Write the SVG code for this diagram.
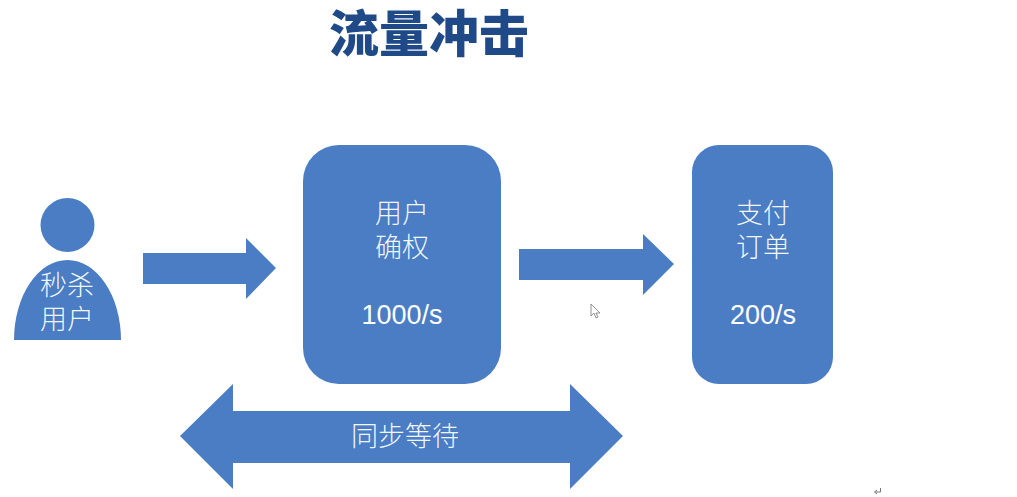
<svg xmlns="http://www.w3.org/2000/svg" width="1017" height="497" viewBox="0 0 1017 497">
<style>
.s{fill:#4a7dc4}
text{font-family:"Liberation Sans","Noto Sans CJK SC",sans-serif;text-anchor:middle}
.w{fill:#fff;font-size:27px;font-weight:300;fill-opacity:.95;font-family:"Noto Sans CJK SC","Liberation Sans",sans-serif}
.n{fill:#fff;font-size:27px}
</style>
<rect width="1017" height="497" fill="#fff"/>
<text id="title" x="429" y="52" style="font-family:'Noto Sans CJK SC',sans-serif;font-weight:900;font-size:50px;fill:#1f4a87">流量冲击</text>
<g id="connectors">
<polygon class="s" points="143,253 246,253 246,238 276,268 246,299 246,284 143,284"/>
<polygon class="s" points="519,249 643,249 643,234 674,264 643,295 643,280 519,280"/>
</g>
<g id="user">
<circle class="s" cx="67.500" cy="225" r="27"/>
<path class="s" d="M14,340A53.500,80 0 0 1 121,340Z"/>
<text class="w" x="67" y="295">秒杀<tspan x="67" dy="34">用户</tspan></text>
</g>
<g id="auth">
<rect class="s" x="303" y="145" width="198" height="239" rx="36"/>
<text class="w" x="402" y="223">用户<tspan x="402" dy="34">确权</tspan></text>
<text class="n" x="402" y="324">1000/s</text>
</g>
<g id="pay">
<rect class="s" x="692" y="145" width="141" height="239" rx="27"/>
<text class="w" x="763" y="223">支付<tspan x="763" dy="34">订单</tspan></text>
<text class="n" x="763" y="324">200/s</text>
</g>
<g id="wait">
<polygon class="s" points="180,436 233,384 233,411 570,411 570,384 623,436 570,489 570,463 233,463 233,489"/>
<text class="w" x="405" y="446">同步等待</text>
</g>
<path d="M591,304v12l3,-3l2,5l2,-1l-2,-4h4z" fill="#fff" stroke="#777" stroke-width=".8"/>
<path d="M880.500,488v4h-5M877,490l-2.500,2l2.500,2" fill="none" stroke="#777" stroke-width="1"/>
</svg>
